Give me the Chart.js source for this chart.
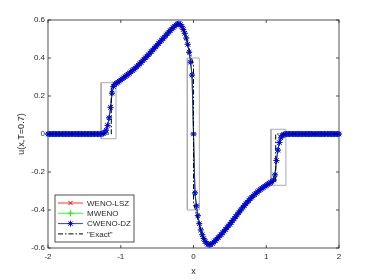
<!DOCTYPE html>
<html>
<head>
<meta charset="utf-8">
<script src="https://cdn.jsdelivr.net/npm/chart.js@4.4.1/dist/chart.umd.min.js"></script>
<style>
  html, body { margin: 0; padding: 0; background: #fff; }
  #wrap { width: 374px; height: 280px; }
</style>
</head>
<body>
<div id="wrap"><canvas id="solChart"></canvas></div>
<script>
// sampling grid x = -2 : 0.02 : 2
var x0 = -2, dx = 0.02;
var xTicks = [-2, -1, 0, 1, 2];
var yTicks = [-0.6, -0.4, -0.2, 0, 0.2, 0.4, 0.6];
var seriesNames = ['WENO-LSZ', 'MWENO', 'CWENO-DZ', '"Exact"'];

// u(x, T=0.7), the three schemes lie on top of each other
var numerical = [
  0, 0, 0, 0, 0, 0, 0, 0, 0, 0, 0, 0, 0, 0, 0, 0, 0, 0, 0, 0,
  0, 0, 0, 0, 0, 0, 0, 0, 0, 0, 0, 0, 0, 0, 0, 0, 0,
  0.001, 0.003, 0.008, 0.02, 0.045, 0.085, 0.14, 0.215, 0.25, 0.262,
  0.267, 0.272, 0.278, 0.284, 0.29, 0.296, 0.302, 0.308, 0.314, 0.32,
  0.327, 0.334, 0.34, 0.347, 0.354, 0.362, 0.369, 0.377, 0.385, 0.393,
  0.401, 0.409, 0.417, 0.425, 0.434, 0.442, 0.451, 0.459, 0.468, 0.476,
  0.485, 0.493, 0.502, 0.51, 0.519, 0.527, 0.536, 0.544, 0.552, 0.56,
  0.567, 0.574, 0.579, 0.581, 0.576, 0.566, 0.55, 0.53, 0.505, 0.472,
  0.43, 0.378, 0.31,
  0,
  -0.31, -0.378, -0.43, -0.472, -0.505, -0.53, -0.55, -0.565, -0.575, -0.581,
  -0.583, -0.581, -0.576, -0.569, -0.561, -0.553, -0.545, -0.537, -0.529, -0.52,
  -0.511, -0.502, -0.493, -0.484, -0.475, -0.465, -0.455, -0.445, -0.435, -0.425,
  -0.415, -0.405, -0.395, -0.385, -0.376, -0.367, -0.358, -0.35, -0.341, -0.333,
  -0.326, -0.319, -0.312, -0.305, -0.298, -0.292, -0.286, -0.281, -0.275, -0.27,
  -0.265, -0.26, -0.255, -0.25, -0.242, -0.215, -0.14, -0.085, -0.045, -0.02,
  -0.008, -0.003, -0.001,
  0, 0, 0, 0, 0, 0, 0, 0, 0, 0, 0, 0, 0, 0, 0, 0, 0, 0, 0, 0,
  0, 0, 0, 0, 0, 0, 0, 0, 0, 0, 0, 0, 0, 0, 0, 0, 0
];

var exactX = [-2, -1.13, -1.13, -1.0, -0.8, -0.6, -0.4, -0.3, -0.24, -0.2, -0.16, -0.12, -0.08, -0.04, 0,
  0, 0.04, 0.08, 0.12, 0.16, 0.2, 0.24, 0.3, 0.4, 0.6, 0.8, 1.0, 1.13, 1.13, 2];
var exactY = [0, 0, 0.255, 0.284, 0.347, 0.425, 0.51, 0.552, 0.574, 0.581, 0.566, 0.53, 0.48, 0.42, 0.36,
  -0.36, -0.42, -0.48, -0.53, -0.565, -0.581, -0.581, -0.561, -0.52, -0.425, -0.333, -0.27, -0.25, 0, 0];

// zoom boxes: [xmin, xmax, ymin, ymax]
var zoomBoxes = [
  [-1.27, -1.065, -0.025, 0.27],
  [-0.085, 0.08, -0.4, 0.4],
  [1.065, 1.27, -0.27, 0.025]
];

var axisColor = '#262626';
var fontFamily = "'Liberation Sans', Arial, sans-serif";

function toPoints(ys) {
  return ys.map(function (v, i) { return { x: x0 + i * dx, y: v }; });
}

function boxPoints(b) {
  return [{ x: b[0], y: b[2] }, { x: b[1], y: b[2] }, { x: b[1], y: b[3] }, { x: b[0], y: b[3] }, { x: b[0], y: b[2] }];
}

var styles = [
  { color: '#ff0000', marker: 'crossRot', dash: [] },
  { color: '#00ff00', marker: 'cross', dash: [] },
  { color: '#0000ff', marker: 'star', dash: [] },
  { color: '#000000', marker: null, dash: [5, 2, 1.5, 2] }
];

var datasets = [];
[numerical, numerical, numerical].forEach(function (ys, k) {
  datasets.push({
    label: seriesNames[k],
    data: toPoints(ys),
    showLine: true,
    borderColor: styles[k].color,
    borderWidth: 0.8,
    pointStyle: styles[k].marker,
    pointRadius: 3,
    pointBorderColor: styles[k].color,
    pointBorderWidth: 1,
    pointBackgroundColor: styles[k].color,
    clip: false,
    order: 3 - k
  });
});
datasets.push({
  label: seriesNames[3],
  data: exactX.map(function (v, i) { return { x: v, y: exactY[i] }; }),
  showLine: true,
  borderColor: '#000000',
  borderWidth: 1,
  borderDash: styles[3].dash,
  pointRadius: 0,
  order: 0
});
zoomBoxes.forEach(function (b) {
  datasets.push({
    label: '',
    data: boxPoints(b),
    showLine: true,
    borderColor: '#ababab',
    borderWidth: 1,
    pointRadius: 0,
    order: 10
  });
});

function drawMarker(ctx, style, x, y, r) {
  ctx.beginPath();
  if (style === 'cross' || style === 'star') {
    ctx.moveTo(x - r, y); ctx.lineTo(x + r, y);
    ctx.moveTo(x, y - r); ctx.lineTo(x, y + r);
  }
  if (style === 'crossRot' || style === 'star') {
    var d = r * 0.707;
    ctx.moveTo(x - d, y - d); ctx.lineTo(x + d, y + d);
    ctx.moveTo(x - d, y + d); ctx.lineTo(x + d, y - d);
  }
  ctx.stroke();
}

var matlabAxes = {
  id: 'matlabAxes',
  beforeDatasetsDraw: function (chart) {
    var ctx = chart.ctx, a = chart.chartArea;
    var xs = chart.scales.x, ys = chart.scales.y;
    ctx.save();
    ctx.strokeStyle = axisColor;
    ctx.lineWidth = 0.8;
    ctx.strokeRect(a.left, a.top, a.right - a.left, a.bottom - a.top);
    ctx.beginPath();
    xTicks.forEach(function (v) {
      var px = xs.getPixelForValue(v);
      ctx.moveTo(px, a.bottom); ctx.lineTo(px, a.bottom - 3);
      ctx.moveTo(px, a.top); ctx.lineTo(px, a.top + 3);
    });
    yTicks.forEach(function (v) {
      var py = ys.getPixelForValue(v);
      ctx.moveTo(a.left, py); ctx.lineTo(a.left + 3, py);
      ctx.moveTo(a.right, py); ctx.lineTo(a.right - 3, py);
    });
    ctx.stroke();
    ctx.restore();
  },
  afterDraw: function (chart) {
    var ctx = chart.ctx, a = chart.chartArea;
    ctx.save();
    // axis titles
    ctx.fillStyle = axisColor;
    ctx.font = '9px ' + fontFamily;
    ctx.textAlign = 'center';
    ctx.textBaseline = 'middle';
    ctx.fillText('x', (a.left + a.right) / 2, 272);
    ctx.translate(22, (a.top + a.bottom) / 2);
    ctx.rotate(-Math.PI / 2);
    ctx.fillText('u(x,T=0.7)', 0, 0);
    ctx.restore();

    // legend, lower left inside the axes
    ctx.save();
    var lx = a.left + 7, ly = a.bottom - 53, lw = 79, lh = 47;
    ctx.fillStyle = '#ffffff';
    ctx.fillRect(lx, ly, lw, lh);
    ctx.strokeStyle = axisColor;
    ctx.lineWidth = 0.8;
    ctx.strokeRect(lx, ly, lw, lh);
    ctx.font = '8px ' + fontFamily;
    ctx.textAlign = 'left';
    ctx.textBaseline = 'middle';
    seriesNames.forEach(function (name, k) {
      var ry = ly + 8 + k * 10.3;
      var st = styles[k];
      ctx.strokeStyle = st.color;
      ctx.lineWidth = k === 3 ? 1 : 0.8;
      ctx.setLineDash(st.dash);
      ctx.beginPath();
      ctx.moveTo(lx + 3, ry); ctx.lineTo(lx + 28, ry);
      ctx.stroke();
      ctx.setLineDash([]);
      if (st.marker) {
        ctx.lineWidth = 1;
        drawMarker(ctx, st.marker, lx + 15.5, ry, 3);
      }
      ctx.fillStyle = axisColor;
      ctx.fillText(name, lx + 32, ry + 0.5);
    });
    ctx.restore();
  }
};

new Chart(document.getElementById('solChart'), {
  type: 'scatter',
  data: { datasets: datasets },
  options: {
    responsive: true,
    maintainAspectRatio: false,
    animation: false,
    events: [],
    layout: { padding: { left: 0, right: 35, top: 20, bottom: 0 } },
    plugins: {
      legend: { display: false },
      tooltip: { enabled: false }
    },
    scales: {
      x: {
        type: 'linear',
        min: -2,
        max: 2,
        afterBuildTicks: function (s) { s.ticks = xTicks.map(function (v) { return { value: v }; }); },
        afterFit: function (s) { s.height = 32; },
        grid: { display: false, drawTicks: false },
        border: { display: false },
        ticks: {
          padding: 4,
          color: axisColor,
          font: { family: fontFamily, size: 8 },
          maxRotation: 0,
          callback: function (v) { return String(v); }
        }
      },
      y: {
        type: 'linear',
        min: -0.6,
        max: 0.6,
        afterBuildTicks: function (s) { s.ticks = yTicks.map(function (v) { return { value: v }; }); },
        afterFit: function (s) { s.width = 48; },
        grid: { display: false, drawTicks: false },
        border: { display: false },
        ticks: {
          padding: 3,
          color: axisColor,
          font: { family: fontFamily, size: 8 },
          callback: function (v) { return String(v); }
        }
      }
    }
  },
  plugins: [matlabAxes]
});
</script>
</body>
</html>
